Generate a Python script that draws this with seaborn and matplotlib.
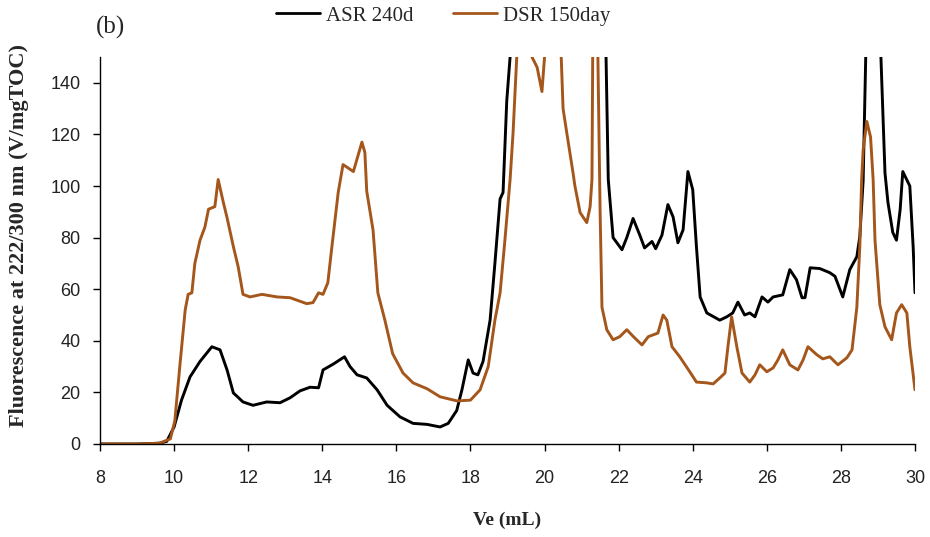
import matplotlib
matplotlib.use("Agg")
import matplotlib.pyplot as plt
import seaborn as sns
import pandas as pd
from matplotlib.lines import Line2D

# ---- data ----
asr_ve = [8.0, 9.0, 9.6, 9.8, 10.0, 10.2, 10.43, 10.7, 11.02, 11.24, 11.43, 11.6, 11.86, 12.13,
          12.5, 12.86, 13.13, 13.4, 13.67, 13.9, 14.02, 14.3, 14.6, 14.75, 14.94, 15.2, 15.48,
          15.75, 16.1, 16.45, 16.83, 17.18, 17.4, 17.63, 17.77, 17.94, 18.07, 18.2, 18.34, 18.53,
          18.66, 18.8, 18.88, 18.98, 19.07, 19.3, 20.0, 21.0, 21.5, 21.66, 21.72, 21.85, 22.09,
          22.22, 22.39, 22.57, 22.7, 22.9, 23.0, 23.17, 23.33, 23.47, 23.6, 23.74, 23.87, 24.0,
          24.1, 24.2, 24.38, 24.73, 24.92, 25.08, 25.22, 25.4, 25.54, 25.68, 25.87, 26.03, 26.17,
          26.43, 26.62, 26.8, 26.95, 27.03, 27.17, 27.43, 27.7, 27.84, 28.05, 28.24, 28.43, 28.51,
          28.6, 28.67, 28.8, 29.0, 29.08, 29.19, 29.27, 29.4, 29.5, 29.6, 29.67, 29.86, 29.95, 30.0]
asr_fl = [0, 0, 0.3, 1, 6.6, 17, 26, 32, 37.7, 36.5, 28.7, 19.8, 16.3, 15,
          16.3, 16, 17.9, 20.6, 22, 21.8, 28.7, 31, 33.8, 30, 26.8, 25.6, 21,
          15, 10.5, 8, 7.6, 6.6, 8, 13, 21, 32.6, 27.5, 26.8, 32, 48,
          70, 95, 97.5, 133, 150, 190, 250, 250, 190, 150, 102.5, 80, 75.3,
          80, 87.4, 81, 76, 78.5, 75.7, 81, 92.8, 88, 78, 83, 105.6, 98.6,
          76.5, 57, 50.8, 48, 49.3, 50.8, 55, 50, 50.8, 49.3, 57, 55, 57,
          57.8, 67.6, 63.7, 56.7, 56.7, 68.3, 68, 66.4, 65, 57, 67.6, 72.6, 80.4,
          102, 150, 250, 250, 150, 105, 93.6, 82, 79, 91, 105.6, 100, 76.5, 58.6]

dsr_ve = [8.0, 9.0, 9.6, 9.9, 10.02, 10.16, 10.3, 10.38, 10.48, 10.56, 10.7, 10.83, 10.93, 11.1,
          11.19, 11.33, 11.43, 11.6, 11.73, 11.86, 12.05, 12.37, 12.78, 13.13, 13.58, 13.75, 13.9,
          14.02, 14.15, 14.26, 14.43, 14.56, 14.84, 15.07, 15.15, 15.2, 15.37, 15.5, 15.69, 15.9,
          16.18, 16.45, 16.83, 17.18, 17.64, 18.0, 18.26, 18.48, 18.66, 18.8, 18.93, 19.07, 19.15,
          19.25, 19.45, 19.66, 19.8, 19.93, 20.0, 20.2, 20.45, 20.5, 20.6, 20.77, 20.82, 20.96,
          21.14, 21.23, 21.28, 21.3, 21.37, 21.44, 21.5, 21.55, 21.68, 21.85, 22.03, 22.22, 22.4,
          22.63, 22.8, 23.06, 23.2, 23.3, 23.44, 23.65, 23.92, 24.1, 24.38, 24.55, 24.73, 24.87,
          24.95, 25.05, 25.19, 25.33, 25.54, 25.68, 25.81, 26.0, 26.17, 26.3, 26.43, 26.62, 26.84,
          26.98, 27.11, 27.35, 27.51, 27.7, 27.92, 28.16, 28.3, 28.43, 28.51, 28.56, 28.6, 28.7,
          28.8, 28.87, 28.92, 29.05, 29.19, 29.37, 29.5, 29.64, 29.78, 29.86, 30.0]
dsr_fl = [0, 0, 0.3, 2, 9, 31, 52, 58, 58.6, 70, 79, 84, 91, 92,
          102.5, 93.6, 87.7, 76.5, 68.7, 58, 57, 58, 57, 56.7, 54.4, 54.8, 58.6,
          58, 62.5, 76.5, 97.5, 108.3, 105.6, 117, 113, 98, 83, 58.6, 48, 35,
          27.5, 23.7, 21.4, 18.3, 16.7, 17, 21, 30, 48, 58.6, 79, 102.5, 120.6,
          150, 200, 150, 146, 136.6, 150, 200, 150, 130, 120.6, 105, 100, 89.7,
          85.8, 92, 102.5, 150, 200, 150, 90, 53, 44.3, 40.4, 41.6, 44.3, 41.6,
          38.4, 41.6, 43, 50, 48, 37.7, 33.8, 28, 24, 23.7, 23.3, 25.6, 27.5,
          37.7, 49.3, 37.7, 27.5, 24, 26.8, 30.7, 28, 29.5, 32.6, 36.5, 30.7, 28.7,
          32.6, 37.7, 34.6, 33, 33.8, 30.7, 33.4, 36.5, 53, 76.5, 102.5, 114, 125,
          119, 102.5, 79, 54, 45.4, 40.4, 50.8, 54, 50.8, 37.7, 21]

series_names = ["ASR 240d", "DSR 150day"]
series_colors = ["#000000", "#A5561B"]
x_ticks = [8, 10, 12, 14, 16, 18, 20, 22, 24, 26, 28, 30]
y_ticks = [0, 20, 40, 60, 80, 100, 120, 140]

assert len(asr_ve) == len(asr_fl)
assert len(dsr_ve) == len(dsr_fl)

df = pd.concat([
    pd.DataFrame({"Ve": asr_ve, "F": asr_fl, "series": series_names[0]}),
    pd.DataFrame({"Ve": dsr_ve, "F": dsr_fl, "series": series_names[1]}),
], ignore_index=True)

sns.set_style("ticks")
plt.rcParams["font.family"] = ["Liberation Serif", "DejaVu Serif"]

fig = plt.figure(figsize=(9.3, 5.37), dpi=100)
ax = fig.add_axes([100 / 930, 1 - 444 / 537, 815 / 930, 387 / 537])

sns.lineplot(data=df, x="Ve", y="F", hue="series", hue_order=series_names,
             palette=series_colors, estimator=None, sort=False, linewidth=2.1,
             ax=ax, legend=False)

ax.set_xlim(8, 30)
ax.set_ylim(0, 150)
ax.set_xticks(x_ticks)
ax.set_yticks(y_ticks)
ax.tick_params(axis="both", direction="out", length=5, width=1, color="black")
ax.tick_params(axis="x", pad=14)
ax.tick_params(axis="y", pad=9)
for lab in ax.get_xticklabels() + ax.get_yticklabels():
    lab.set_fontfamily(["Liberation Sans", "DejaVu Sans"])
    lab.set_fontsize(13)
    lab.set_color("#222222")

for s in ["top", "right"]:
    ax.spines[s].set_visible(False)
for s in ["left", "bottom"]:
    ax.spines[s].set_linewidth(1.0)
    ax.spines[s].set_color("black")

ax.set_xlabel("Ve (mL)", fontsize=14, fontweight="bold")
ax.xaxis.set_label_coords((507 - 100) / 815, (444 - 512) / 387)
ax.set_ylabel("Fluorescence at 222/300 nm (V/mgTOC)", fontsize=16, fontweight="bold")
ax.yaxis.set_label_coords((29 - 100) / 815, (444 - 235) / 387)

fig.text(96 / 930, 1 - 27 / 537, "(b)", fontsize=18, ha="left", va="center")

handles = [Line2D([0], [0], color=c, lw=2) for c in series_colors]
fig.legend(handles, series_names, loc="center", bbox_to_anchor=(443 / 930, 1 - 16 / 537),
           ncol=2, frameon=False, fontsize=15, handlelength=2.1, handletextpad=0.3,
           columnspacing=1.9, borderaxespad=0, borderpad=0)

fig.savefig("out.png", dpi=100)
